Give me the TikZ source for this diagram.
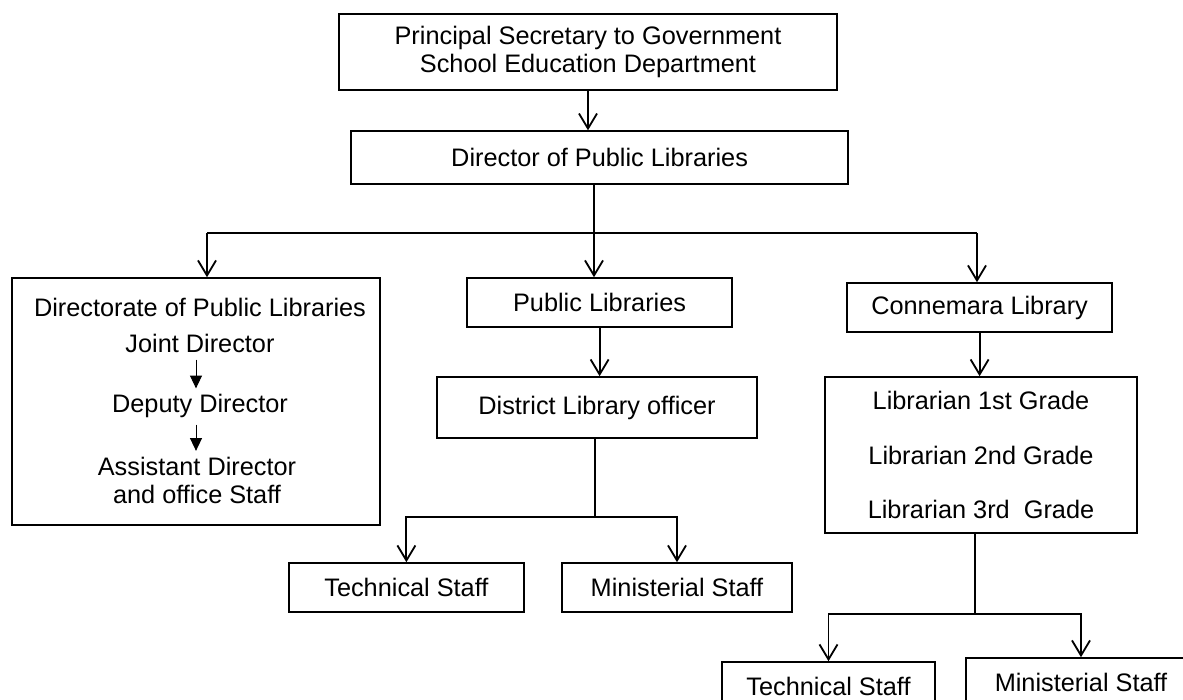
\documentclass[tikz,border=0pt]{standalone}
\usepackage{fontspec}
\setmainfont{Liberation Sans}
\usetikzlibrary{arrows.meta,positioning}
\tikzstyle{box}=[draw,line width=1.1pt,inner sep=2pt,align=center,font=\fontsize{18}{20}\selectfont]
\tikzstyle{item}=[inner sep=0.15cm,align=center,font=\fontsize{18}{20}\selectfont]
\tikzstyle{link}=[line width=1.3pt]
\tikzstyle{down}=[link,-{Straight Barb[length=0.375cm,width=0.45cm]}]
\tikzstyle{rank}=[line width=0.7pt,-{Triangle[length=0.32cm,width=0.3cm]}]

\begin{document}
\begin{tikzpicture}
          \useasboundingbox (0,0) rectangle (29.575,17.5);
          \clip (0,0) rectangle (29.575,17.5);

          % top of the tree
          \node[box,minimum width=12.45cm,minimum height=1.9cm] (psec) at (14.7,16.2)
            {\rule{0pt}{10pt}Principal Secretary to Government\\School Education Department};
          \node[box,minimum width=12.425cm,minimum height=1.325cm] (dpl) at (14.99,13.56)
            {Director of Public Libraries};

          % directorate
          \node[box,minimum width=9.2cm,minimum height=6.175cm] (dir) at (4.9,7.4625) {};
          \node[item,anchor=base] (dtitle) at (5.0,9.575) {Directorate of Public Libraries};
          \node[item,anchor=base] (jd) at (5.0,8.675) {Joint Director};
          \node[item,anchor=base] (dd) at (5.0,7.175) {Deputy Director};
          \node[item] (ad) at (4.925,5.4875) {Assistant Director\\ and office Staff};
          \draw[rank] ([xshift=-1mm]jd.south) -- ([xshift=-1mm]jd.south |- dd.north);
          \draw[rank] ([xshift=-1mm]dd.south) -- ([xshift=-1mm]dd.south |- ad.north);

          % public libraries
          \node[box,minimum width=6.625cm,minimum height=1.225cm] (publib) at (14.99,9.9375) {Public Libraries};
          \node[box,minimum width=8cm,minimum height=1.525cm] (dlo) at (14.925,7.3125) {District Library officer};
          \node[box,minimum width=5.875cm,minimum height=1.225cm] (tech1) at (10.16,2.8125) {Technical Staff};
          \node[box,minimum width=5.75cm,minimum height=1.225cm] (mini1) at (16.925,2.8125) {Ministerial Staff};

          % connemara
          \node[box,minimum width=6.625cm,minimum height=1.225cm] (conn) at (24.49,9.8125) {Connemara Library};
          \node[box,minimum width=7.8cm,minimum height=3.9cm] (libr) at (24.525,6.125)
            {Librarian 1st Grade\\[19pt]Librarian 2nd Grade\\[19pt]Librarian 3rd\ \ Grade};
          \node[box,minimum width=5.325cm,minimum height=1.225cm] (tech2) at (20.7125,0.3375) {Technical Staff};
          \node[box,minimum width=5.75cm,minimum height=1.225cm] (mini2) at (27.025,0.4375) {Ministerial Staff};

          % connectors
          \coordinate (split) at (14.85,11.675);
          \coordinate (lt) at (5.175,11.675);
          \coordinate (rt) at (24.425,11.675);
          \coordinate (dsplit) at (14.875,4.575);
          \coordinate (lsplit) at (24.375,2.15);

          \draw[down] (psec.south) -- (psec.south |- dpl.north);
          \draw[link] (split |- dpl.south) -- (split);
          \draw[link] (lt) -- (rt);
          \draw[down] (split) -- (split |- publib.north);
          \draw[down] (lt) -- (lt |- dir.north);
          \draw[down] (rt) -- (rt |- conn.north);

          \draw[down] (publib.south) -- (publib.south |- dlo.north);
          \draw[link] (dsplit |- dlo.south) -- (dsplit);
          \draw[down] (dsplit) -| (tech1.north);
          \draw[down] (dsplit) -| (mini1.north);

          \draw[down] (conn.south) -- (conn.south |- libr.north);
          \draw[link] (lsplit |- libr.south) -- (lsplit);
          \draw[down] (lsplit) -| (tech2.north);
          \draw[down] (lsplit) -| (mini2.north);
        \end{tikzpicture}
\end{document}
